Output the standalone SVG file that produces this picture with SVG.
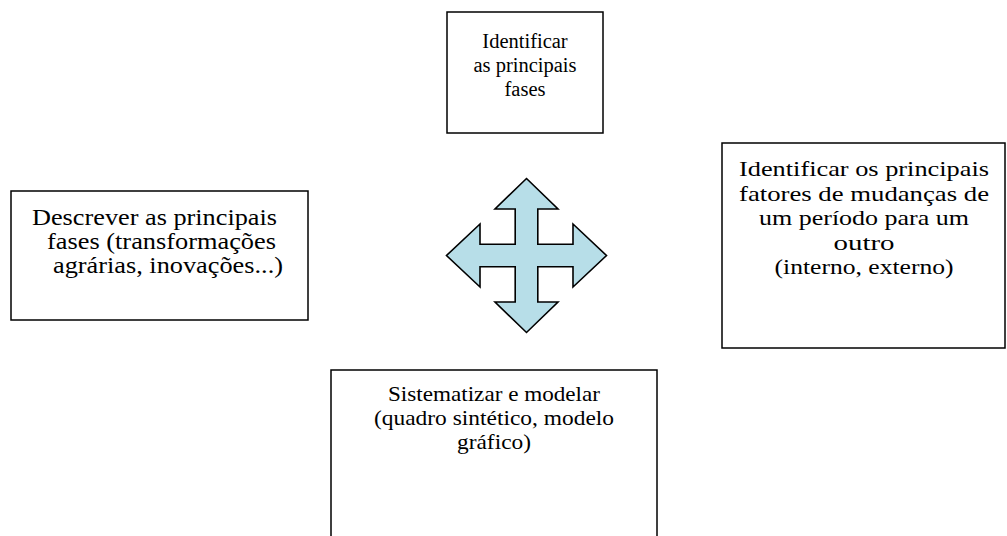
<svg xmlns="http://www.w3.org/2000/svg" width="1007" height="536" viewBox="0 0 1007 536">
  <style>
    .box { fill: #ffffff; stroke: #000000; stroke-width: 1.5; }
    .t { font-family: "Liberation Serif", "Times New Roman", serif; font-size: 20.5px; fill: #000000; }
    .c { text-anchor: middle; }
    .l { font-size: 22.5px; }
    .r { font-size: 22px; }
    .b { font-size: 22px; }
    .arrow { fill: #B7DEE8; stroke: #000000; stroke-width: 1.6; stroke-linejoin: miter; }
  </style>
  <rect width="1007" height="536" fill="#ffffff"/>
  <g id="node-identificar-fases">
    <rect class="box" x="447" y="12" width="156" height="121"/>
    <text class="t c" x="525" y="48">Identificar</text>
    <text class="t c" x="525" y="72">as principais</text>
    <text class="t c" x="525" y="96">fases</text>
  </g>
  <g id="node-descrever">
    <rect class="box" x="11" y="191" width="297" height="129"/>
    <text class="t l" x="32" y="225" textLength="245" lengthAdjust="spacingAndGlyphs">Descrever as principais</text>
    <text class="t l" x="47" y="249" textLength="229" lengthAdjust="spacingAndGlyphs">fases (transformações</text>
    <text class="t l" x="53" y="273" textLength="230" lengthAdjust="spacingAndGlyphs">agrárias, inovações...)</text>
  </g>
  <g id="node-fatores">
    <rect class="box" x="722" y="143" width="283" height="205"/>
    <text class="t c r" x="864" y="176" textLength="250" lengthAdjust="spacingAndGlyphs">Identificar os principais</text>
    <text class="t c r" x="864" y="200.5" textLength="250" lengthAdjust="spacingAndGlyphs">fatores de mudanças de</text>
    <text class="t c r" x="864" y="225" textLength="210" lengthAdjust="spacingAndGlyphs">um período para um</text>
    <text class="t c r" x="864" y="249.5" textLength="61" lengthAdjust="spacingAndGlyphs">outro</text>
    <text class="t c r" x="864" y="274" textLength="179" lengthAdjust="spacingAndGlyphs">(interno, externo)</text>
  </g>
  <g id="node-sistematizar">
    <rect class="box" x="331" y="370" width="326" height="180"/>
    <text class="t c b" x="494" y="401" textLength="212" lengthAdjust="spacingAndGlyphs">Sistematizar e modelar</text>
    <text class="t c b" x="494" y="425" textLength="240" lengthAdjust="spacingAndGlyphs">(quadro sintético, modelo</text>
    <text class="t c b" x="494" y="449" textLength="74" lengthAdjust="spacingAndGlyphs">gráfico)</text>
  </g>
  <g id="connectors">
    <polygon class="arrow" points="526.5,178.5 558,209 537.8,209 537.8,244.2 573,244.2 573,224 606.5,255.5 573,287 573,266.8 537.8,266.8 537.8,302 558,302 526.5,332.5 495,302 515.2,302 515.2,266.8 480,266.8 480,287 446.5,255.5 480,224 480,244.2 515.2,244.2 515.2,209 495,209"/>
  </g>
</svg>
